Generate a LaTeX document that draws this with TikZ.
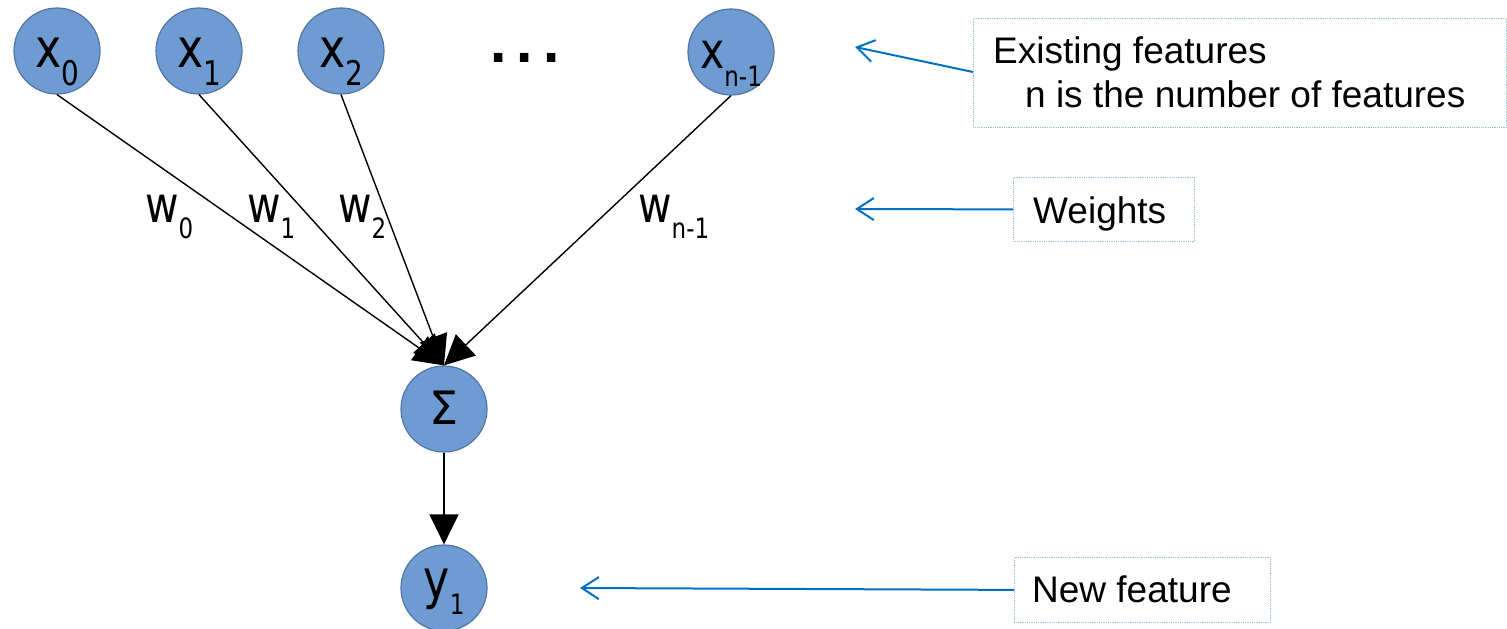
\documentclass[tikz,border=0pt]{standalone}
\usepackage{fontspec}
\setmainfont{Liberation Sans}
\newfontfamily\dvs{DejaVu Sans}[FakeStretch=0.82]
\newfontfamily\dvsplain{DejaVu Sans}
\usetikzlibrary{arrows.meta}
\definecolor{nodefill}{RGB}{110,155,210}
\definecolor{nodeline}{RGB}{82,117,165}
\definecolor{callblue}{RGB}{0,112,192}
\definecolor{boxline}{RGB}{150,190,230}
\newcommand\nlab[3]{{\fontsize{#1}{#1}\selectfont x}\raisebox{-18pt}{\fontsize{#2}{#2}\selectfont #3}}
\newcommand\wlab[1]{{\fontsize{50}{50}\selectfont w}\raisebox{-16pt}{\fontsize{28}{28}\selectfont #1}}
\begin{document}
\begin{tikzpicture}[x=1pt,y=-1pt,
  neuron/.style={circle,fill=nodefill,draw=nodeline,line width=1.2pt,minimum size=86pt,inner sep=0pt,font=\dvs,text height=32pt,text depth=0pt},
  conn/.style={line width=1.4pt,-{Triangle[length=30pt,width=29pt]}},
  note/.style={draw=boxline,densely dotted,line width=0.8pt,anchor=north west,inner sep=0pt},
  notetext/.style={font=\fontsize{37}{37}\selectfont,anchor=base west,inner sep=0pt},
  call/.style={callblue,line width=2pt,-{Straight Barb[length=17pt,width=22pt]}},
  wtext/.style={font=\dvs,anchor=base west,inner sep=0pt},
]
\useasboundingbox[fill=white] (0,0) rectangle (1507,629);

% neurons
\node[neuron] (x0) at (57,51) {\nlab{54}{34}{0}};
\node[neuron] (x1) at (199,51) {\nlab{54}{34}{1}};
\node[neuron] (x2) at (341,51) {\nlab{54}{34}{2}};
\node[neuron] (xn) at (731,52) {\nlab{50}{28}{n-1}};
\node[inner sep=0pt,anchor=base west,font=\dvsplain\bfseries\fontsize{48}{48}\selectfont] (dots) at (489,62) {.\hspace{8.5pt}.\hspace{8.5pt}.};
\node[neuron,font=\dvsplain,text height=30pt] (sum) at (444,409) {{\fontsize{46}{46}\selectfont Σ}};
\node[neuron,text height=20pt] (y1) at (444,588) {{\fontsize{54}{54}\selectfont y}\raisebox{-16pt}{\fontsize{28}{28}\selectfont 1}};

% connectors
\draw[conn] (x0.south) -- (sum.north);
\draw[conn] (x1.south) -- (sum.north);
\draw[conn] (x2.south) -- (sum.north);
\draw[conn] (xn.south) -- (sum.north);
\draw[conn] (sum.south) -- (y1.north);

% weights
\node[wtext] (w0) at (145,222) {\wlab{0}};
\node[wtext] (w1) at (247,222) {\wlab{1}};
\node[wtext] (w2) at (338,222) {\wlab{2}};
\node[wtext] (wn) at (638,222) {\wlab{n-1}};

% notes
\node[note,minimum width=533pt,minimum height=109pt] (exbox) at (973,18) {};
\node[notetext] (ex1) at (993,63) {Existing features};
\node[notetext] (ex2) at (1025,107) {n is the number of features};
\node[note,minimum width=181pt,minimum height=64pt] (wbox) at (1013,177) {};
\node[notetext] (wt) at (1033,223) {Weights};
\node[note,minimum width=256pt,minimum height=65pt] (nbox) at (1014,557) {};
\node[notetext] (nt) at (1032,602) {New feature};

\coordinate (exTip) at (855,47);
\coordinate (wTip) at (855,209);
\coordinate (nTip) at (580,588);
\draw[call] (exbox.west |- 0,72) -- (exTip);
\draw[call] (wbox.west) -- (wTip);
\draw[call] (nbox.west) -- (nTip);
\end{tikzpicture}
\end{document}
